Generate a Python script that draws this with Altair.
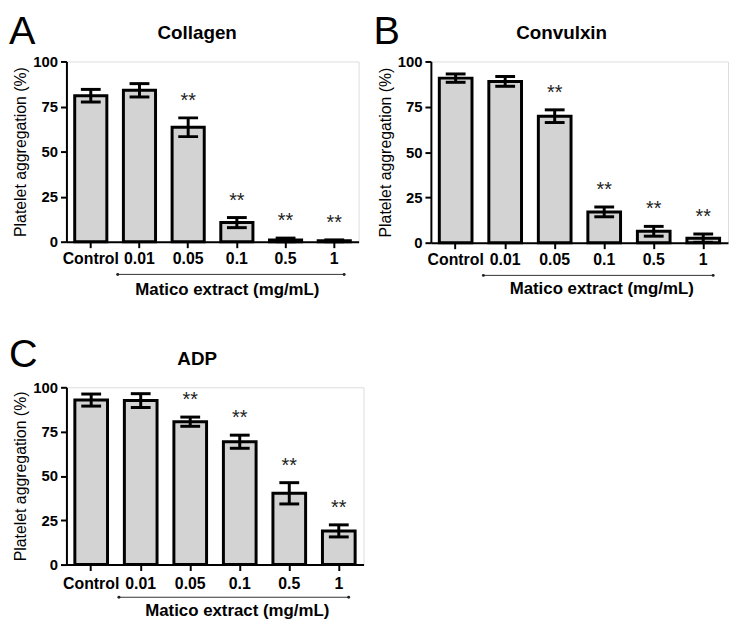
import altair as alt
import pandas as pd

categories = ["Control", "0.01", "0.05", "0.1", "0.5", "1"]
significance = ["", "", "**", "**", "**", "**"]

collagen_mean = [81.0, 84.0, 63.5, 10.6, 1.0, 0.5]
collagen_err = [3.5, 3.7, 5.2, 2.8, 1.0, 0.5]

convulxin_mean = [90.8, 89.0, 69.8, 17.0, 6.3, 2.5]
convulxin_err = [2.3, 2.7, 3.5, 2.7, 2.7, 2.3]

adp_mean = [92.8, 92.5, 80.6, 69.3, 40.2, 19.0]
adp_err = [3.4, 3.9, 2.6, 3.7, 6.0, 3.4]

FONT = "Liberation Sans"


def panel(letter, title, means, errs, w, h, letter_y, xtitle_x, xtitle_y, lpad):
    df = pd.DataFrame({
        "cat": categories,
        "mean": means,
        "lo": [m - e for m, e in zip(means, errs)],
        "hi": [m + e for m, e in zip(means, errs)],
        "sig": significance,
    })
    xs = alt.Scale(domain=categories, paddingInner=0.34, paddingOuter=0.17)
    ys = alt.Scale(domain=[0, 100], nice=False)
    base = alt.Chart(df)
    x_enc = alt.X(
        "cat:N", scale=xs, sort=categories,
        axis=alt.Axis(
            title="Matico extract (mg/mL)", labelAngle=0, labelFontSize=16,
            labelFontWeight="bold", labelColor="black", labelPadding=lpad,
            tickSize=6, tickWidth=2, tickColor="black", domainColor="black",
            domainWidth=2, titleFontSize=17, titleFontWeight="bold",
            titleColor="black", titleX=xtitle_x, titleY=xtitle_y,
            titleBaseline="alphabetic", titleAlign="center", titleFont=FONT,
            labelFont=FONT,
        ),
    )
    y_enc = alt.Y(
        "mean:Q", scale=ys,
        axis=alt.Axis(
            title="Platelet aggregation (%)", values=[0, 25, 50, 75, 100],
            grid=False, labelFontSize=15, labelFontWeight="bold",
            labelColor="black", labelPadding=3, tickSize=6, tickWidth=2,
            tickColor="black", domainColor="black", domainWidth=2,
            titleFontSize=16, titleFontWeight="normal", titleColor="black",
            titleX=-46, titleY=h / 2, titleAngle=270, titleBaseline="middle",
            titleAlign="center", titleFont=FONT, labelFont=FONT,
        ),
    )
    bars = base.mark_bar(fill="#d3d3d3", stroke="black", strokeWidth=3).encode(
        x=x_enc, y=y_enc
    )
    err = base.mark_rule(color="black", strokeWidth=3).encode(
        x=alt.X("cat:N", scale=xs, sort=categories),
        y=alt.Y("lo:Q", scale=ys),
        y2="hi:Q",
    )
    cap_lo = base.mark_tick(color="black", orient="horizontal", size=20,
                            thickness=3, opacity=1).encode(
        x=alt.X("cat:N", scale=xs, sort=categories),
        y=alt.Y("lo:Q", scale=ys),
    )
    cap_hi = base.mark_tick(color="black", orient="horizontal", size=20,
                            thickness=3, opacity=1).encode(
        x=alt.X("cat:N", scale=xs, sort=categories),
        y=alt.Y("hi:Q", scale=ys),
    )
    stars = base.mark_text(fontSize=20, dy=-11, baseline="alphabetic",
                           color="#222222", font=FONT).encode(
        x=alt.X("cat:N", scale=xs, sort=categories),
        y=alt.Y("hi:Q", scale=ys),
        text="sig:N",
    )
    bdf = pd.DataFrame({"start": ["0.01"], "end": ["1"]})
    bracket = alt.Chart(bdf).mark_rule(
        color="#333333", strokeWidth=1, xOffset=-22, x2Offset=10
    ).encode(
        x=alt.X("start:N", scale=xs, sort=categories),
        x2="end:N",
        y=alt.value(h + 33),
    )
    dot_l = alt.Chart(bdf).mark_circle(color="#222222", size=9, opacity=1,
                                       xOffset=-22).encode(
        x=alt.X("start:N", scale=xs, sort=categories), y=alt.value(h + 33)
    )
    dot_r = alt.Chart(bdf).mark_circle(color="#222222", size=9, opacity=1,
                                       xOffset=10).encode(
        x=alt.X("end:N", scale=xs, sort=categories), y=alt.value(h + 33)
    )
    ldf = pd.DataFrame({"letter": [letter], "title": [title]})
    letter_mark = alt.Chart(ldf).mark_text(
        fontSize=40, align="left", baseline="alphabetic", font=FONT,
        color="black"
    ).encode(x=alt.value(-58), y=alt.value(letter_y), text="letter:N")
    title_mark = alt.Chart(ldf).mark_text(
        fontSize=19, fontWeight="bold", align="center", baseline="alphabetic",
        font=FONT, color="black"
    ).encode(x=alt.value(132), y=alt.value(-23), text="title:N")
    return alt.layer(
        bars, err, cap_lo, cap_hi, stars, bracket, dot_l, dot_r,
        letter_mark, title_mark
    ).properties(width=w, height=h)


pa = panel("A", "Collagen", collagen_mean, collagen_err, 295, 182, -18, 162, 53, 3)
pb = panel("B", "Convulxin", convulxin_mean, convulxin_err, 300, 183, -18, 172, 51, 3)
pc = panel("C", "ADP", adp_mean, adp_err, 300, 179, -20, 172, 51, 5)

chart = alt.vconcat(
    alt.hconcat(pa, pb, spacing=13),
    pc,
    spacing=37,
).properties(padding=0).configure_view(stroke=None).configure(
    font=FONT, background="white"
)

chart.save("out.html", embed_options={"renderer": "svg", "actions": False})
